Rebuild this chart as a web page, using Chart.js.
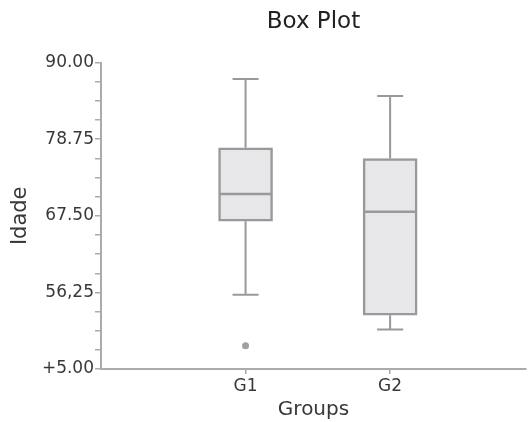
<!DOCTYPE html>
<html>
<head>
<meta charset="utf-8">
<script src="https://cdn.jsdelivr.net/npm/chart.js@4.4.0/dist/chart.umd.min.js"></script>
<style>
html,body{margin:0;padding:0;background:#fff;}
#wrap{width:530px;height:422px;position:relative;}
</style>
</head>
<body>
<div id="wrap"><canvas id="c"></canvas></div>
<script>
// ---- data ----
const categories = ['G1', 'G2'];
const mins    = [55.9, 50.8];
const q1s     = [66.7, 52.9];
const medians = [70.7, 68.1];
const q3s     = [77.5, 75.9];
const maxs    = [87.6, 85.1];
const outliers = [[48.4], []];
const yTickValues = [45, 56.25, 67.5, 78.75, 90];
const yTickLabels = ['+5.00', '56,25', '67.50', '78.75', '90.00'];

const GRAY = '#999999';
const AXIS = '#ababab';
const TEXT = '#383838';
Chart.defaults.font.family = 'DejaVu Sans';
Chart.defaults.color = TEXT;

const boxData = categories.map((c, i) => ({ x: i + 1, y: [q1s[i], q3s[i]] }));
const outlierData = [];
outliers.forEach((arr, i) => arr.forEach(v => outlierData.push({ x: i + 1, y: v })));

const BOX_W = 54, CAP_W = 26;

const whiskerPlugin = {
  id: 'whiskers',
  afterDatasetsDraw(chart) {
    const ctx = chart.ctx, xs = chart.scales.x, ys = chart.scales.y;
    ctx.save();
    ctx.strokeStyle = GRAY;
    categories.forEach((c, i) => {
      const x = xs.getPixelForValue(i + 1);
      const yMin = ys.getPixelForValue(mins[i]);
      const yQ1 = ys.getPixelForValue(q1s[i]);
      const yMed = ys.getPixelForValue(medians[i]);
      const yQ3 = ys.getPixelForValue(q3s[i]);
      const yMax = ys.getPixelForValue(maxs[i]);
      ctx.lineWidth = 2;
      ctx.beginPath();
      ctx.moveTo(x, yQ3); ctx.lineTo(x, yMax);
      ctx.moveTo(x - CAP_W / 2, yMax); ctx.lineTo(x + CAP_W / 2, yMax);
      ctx.moveTo(x, yQ1); ctx.lineTo(x, yMin);
      ctx.moveTo(x - CAP_W / 2, yMin); ctx.lineTo(x + CAP_W / 2, yMin);
      ctx.stroke();
      ctx.lineWidth = 2.5;
      ctx.beginPath();
      ctx.moveTo(x - BOX_W / 2 + 1, yMed); ctx.lineTo(x + BOX_W / 2 - 1, yMed);
      ctx.stroke();
    });
    ctx.restore();
  }
};

new Chart(document.getElementById('c'), {
  type: 'bar',
  data: {
    datasets: [
      {
        type: 'bar',
        data: boxData,
        backgroundColor: '#e7e7e9',
        borderColor: GRAY,
        borderWidth: 2.5,
        borderSkipped: false,
        barThickness: BOX_W
      },
      {
        type: 'scatter',
        data: outlierData,
        pointRadius: 3.5,
        pointBackgroundColor: '#a0a0a0',
        pointBorderColor: '#a0a0a0',
        pointBorderWidth: 0
      }
    ]
  },
  options: {
    responsive: true,
    maintainAspectRatio: false,
    animation: false,
    layout: { padding: 0 },
    plugins: {
      legend: { display: false },
      tooltip: { enabled: false },
      title: {
        display: true,
        text: 'Box Plot',
        fullSize: false,
        color: '#222',
        font: { size: 23, weight: 'normal' },
        padding: { top: 8, bottom: 27 }
      }
    },
    scales: {
      x: {
        type: 'linear',
        offset: false,
        min: 0,
        max: 2.94,
        afterBuildTicks(scale) {
          scale.ticks = categories.map((c, i) => ({ value: i + 1 }));
        },
        afterFit(scale) { scale.height = 53; },
        ticks: {
          callback: (v) => categories[v - 1] || '',
          font: { size: 17 },
          color: TEXT,
          padding: 2,
          maxRotation: 0,
          autoSkip: false
        },
        grid: { offset: false, drawOnChartArea: false, drawTicks: true, tickLength: 5, color: AXIS, lineWidth: 1.5 },
        border: { display: true, color: AXIS, width: 2 },
        title: { display: true, text: 'Groups', color: TEXT, font: { size: 20 }, padding: { top: 0, bottom: 0 } }
      },
      y: {
        type: 'linear',
        min: 45,
        max: 90,
        afterBuildTicks(scale) {
          const t = [];
          for (let k = 0; k < yTickValues.length; k++) {
            t.push({ value: yTickValues[k] });
            if (k < yTickValues.length - 1) {
              const step = (yTickValues[k + 1] - yTickValues[k]) / 4;
              for (let m = 1; m < 4; m++) t.push({ value: yTickValues[k] + step * m });
            }
          }
          scale.ticks = t;
        },
        afterFit(scale) { scale.width = 101; },
        ticks: {
          callback: (v) => {
            const idx = yTickValues.findIndex(tv => Math.abs(tv - v) < 1e-6);
            return idx >= 0 ? yTickLabels[idx] : '';
          },
          font: { size: 17 },
          color: TEXT,
          padding: 1,
          autoSkip: false
        },
        grid: { drawOnChartArea: false, drawTicks: true, tickLength: 6, color: AXIS, lineWidth: 1.5 },
        border: { display: true, color: AXIS, width: 2 },
        title: { display: true, text: 'Idade', color: TEXT, font: { size: 21 }, padding: { top: 8, bottom: 0 } }
      }
    }
  },
  plugins: [whiskerPlugin]
});
</script>
</body>
</html>
